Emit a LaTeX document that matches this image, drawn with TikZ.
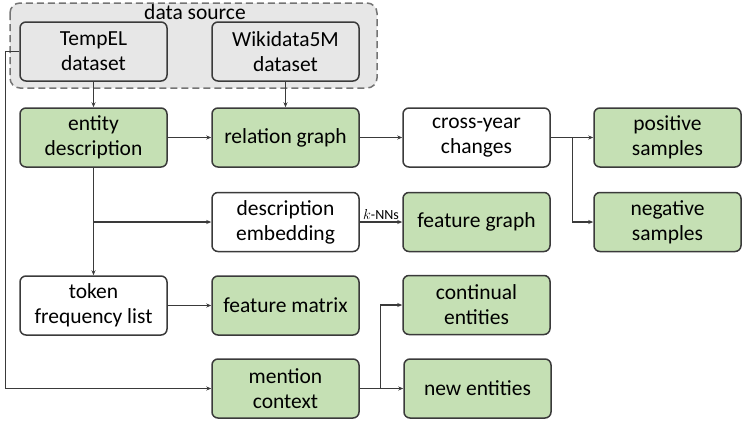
\documentclass[tikz,border=0pt]{standalone}
\usepackage{fontspec}
\setmainfont{Carlito}
\usepackage{tikz}
\usepackage{xcolor}
\usetikzlibrary{arrows.meta}
\definecolor{boxgreen}{HTML}{C5E0B4}
\definecolor{boxgray}{HTML}{E7E7E7}
\definecolor{linegray}{HTML}{3A3A3A}
\definecolor{dashgray}{HTML}{747474}

\begin{document}
\begin{tikzpicture}[x=1pt,y=-1pt,
  every node/.style={font=\fontsize{21.5}{25}\selectfont,align=center},
  box/.style={draw=linegray,line width=1.5pt,rounded corners=6pt,minimum width=147pt,minimum height=59pt,inner sep=0pt},
  greenbox/.style={box,fill=boxgreen},
  whitebox/.style={box,fill=white},
  graybox/.style={box,fill=boxgray},
  conn/.style={draw=linegray,line width=1.2pt,-{Stealth[length=5pt,width=4pt]}}]
\useasboundingbox (0,0) rectangle (747,421);
% data source frame
\draw[fill=boxgray,draw=dashgray,line width=1.5pt,dash pattern=on 7pt off 4pt,rounded corners=10pt] (10,3) rectangle (377,88);
\node[anchor=base,inner sep=0pt] (srclabel) at (195,19) {data source};
\node[graybox] (tempel) at (93.5,51.5) {TempEL\\dataset};
\node[graybox] (wiki) at (285.5,51.5) {Wikidata5M\\dataset};
% first row
\node[greenbox] (entdesc) at (93.5,137.5) {entity\\description};
\node[greenbox] (relgraph) at (285.5,137.5) {relation graph};
\node[whitebox] (cross) at (476.5,137.5) {cross-year\\changes};
\node[greenbox] (pos) at (667.5,137.5) {positive\\samples};
% second row
\node[whitebox] (descemb) at (285.5,222) {description\\embedding};
\node[greenbox] (featgraph) at (476.5,222) {feature graph};
\node[greenbox] (neg) at (667.5,222) {negative\\samples};
% third and fourth row
\node[whitebox] (tokfreq) at (93.5,305.5) {token\\frequency list};
\node[greenbox] (featmat) at (285.5,305.5) {feature matrix};
\node[greenbox] (contin) at (476.5,305) {continual\\entities};
\node[greenbox] (mention) at (285.5,388.5) {mention\\context};
\node[greenbox] (newent) at (477.5,388.5) {new entities};
% connectors
\draw[conn] (tempel) -- (entdesc);
\draw[conn] (wiki) -- (relgraph);
\draw[conn] (entdesc) -- (relgraph);
\draw[conn] (relgraph) -- (cross);
\draw[conn] (cross) -- (pos);
\draw[conn] (cross.east) -- ++(22,0) |- (neg.west);
\draw[conn] (entdesc) -- (tokfreq);
\draw[conn] (entdesc.south) |- (descemb.west);
\draw[conn] (descemb) -- node[above,inner sep=2pt,font=\fontsize{14}{16}\selectfont] (knn) {$k$-NNs} (featgraph);
\draw[conn] (tokfreq) -- (featmat);
\draw[conn] (tempel.west) -- ++(-14,0) |- (mention.west);
\draw[conn] (mention) -- (newent);
\draw[conn] (mention.east) -- ++(21,0) |- (contin.west);
\end{tikzpicture}
\end{document}
